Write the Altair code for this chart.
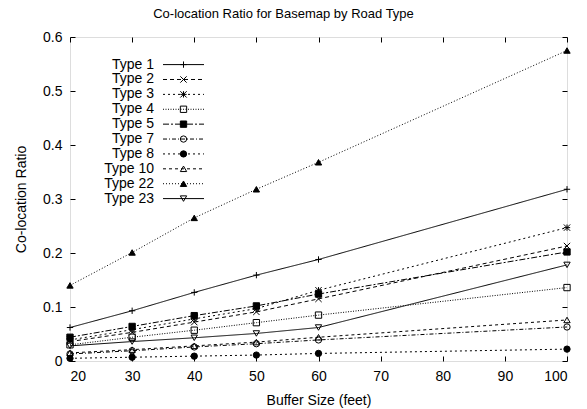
import altair as alt
import pandas as pd

buffer_sizes = [20, 30, 40, 50, 60, 100]
types = ["Type 1", "Type 2", "Type 3", "Type 4", "Type 5",
         "Type 7", "Type 8", "Type 10", "Type 22", "Type 23"]

type_1 = [0.062, 0.093, 0.127, 0.159, 0.188, 0.318]
type_2 = [0.036, 0.053, 0.072, 0.091, 0.115, 0.213]
type_3 = [0.039, 0.058, 0.078, 0.097, 0.131, 0.247]
type_4 = [0.030, 0.044, 0.057, 0.071, 0.085, 0.136]
type_5 = [0.044, 0.064, 0.084, 0.102, 0.124, 0.202]
type_7 = [0.013, 0.019, 0.026, 0.032, 0.039, 0.063]
type_8 = [0.005, 0.007, 0.009, 0.011, 0.014, 0.022]
type_10 = [0.015, 0.021, 0.028, 0.035, 0.044, 0.076]
type_22 = [0.140, 0.201, 0.265, 0.318, 0.368, 0.575]
type_23 = [0.028, 0.036, 0.043, 0.051, 0.062, 0.178]

x_ticks = [20, 30, 40, 50, 60, 70, 80, 90, 100]
y_ticks = [0, 0.1, 0.2, 0.3, 0.4, 0.5, 0.6]

series = [type_1, type_2, type_3, type_4, type_5, type_7, type_8, type_10, type_22, type_23]
rows = []
for t, vals in zip(types, series):
    for b, v in zip(buffer_sizes, vals):
        rows.append({"Type": t, "Buffer": b, "Ratio": v})
df = pd.DataFrame(rows)
leg_df = pd.DataFrame({"Type": types})

FONT = "Liberation Sans"
FS = 14

dash_scale = alt.Scale(domain=types, range=[
    [1, 0], [4, 3], [2, 3], [1, 1.5], [6, 2, 2, 2],
    [4, 2, 1, 2], [2, 3], [3, 3], [1, 2], [1, 0]])
shape_scale = alt.Scale(domain=types, range=[
    "M-1,0L1,0M0,-1L0,1",
    "M-1,-1L1,1M-1,1L1,-1",
    "M-1,-1L1,1M-1,1L1,-1M-1,0L1,0M0,-1L0,1",
    "square", "square", "circle", "circle",
    "triangle-up", "triangle-up", "triangle-down"])
fill_scale = alt.Scale(domain=types, range=[
    "transparent", "transparent", "transparent", "transparent", "black",
    "transparent", "black", "transparent", "black", "transparent"])

x_scale = alt.Scale(domain=[20, 100], nice=False, zero=False)
y_scale = alt.Scale(domain=[0, 0.6], nice=False)

x_axis = alt.Axis(values=x_ticks, title="Buffer Size (feet)", domain=False, grid=False,
                  offset=-5, tickSize=5, tickColor="black", labelPadding=8,
                  labelFontSize=FS, titleFontSize=FS, labelFont=FONT, titleFont=FONT,
                  titleFontWeight="normal", labelColor="black", titleColor="black",
                  titlePadding=10)
y_axis = alt.Axis(values=y_ticks, title="Co-location Ratio", format=".1~f", domain=False,
                  grid=False, offset=-5, tickSize=5, tickColor="black", labelPadding=8,
                  labelFontSize=FS, titleFontSize=FS, labelFont=FONT, titleFont=FONT,
                  titleFontWeight="normal", labelColor="black", titleColor="black",
                  titlePadding=14)

lines = alt.Chart(df).mark_line(color="black", strokeWidth=1).encode(
    x=alt.X("Buffer:Q", scale=x_scale, axis=x_axis),
    y=alt.Y("Ratio:Q", scale=y_scale, axis=y_axis),
    strokeDash=alt.StrokeDash("Type:N", scale=dash_scale, legend=None),
    detail="Type:N",
)

points = alt.Chart(df).mark_point(stroke="black", strokeWidth=1, size=40, opacity=1).encode(
    x=alt.X("Buffer:Q", scale=x_scale, axis=None),
    y=alt.Y("Ratio:Q", scale=y_scale, axis=None),
    shape=alt.Shape("Type:N", scale=shape_scale, legend=None),
    fill=alt.Fill("Type:N", scale=fill_scale, legend=None),
)

mirror = alt.Chart(df).mark_point(opacity=0).encode(
    x=alt.X("Buffer:Q", scale=x_scale,
            axis=alt.Axis(orient="top", values=x_ticks, labels=False, title=None, domain=False,
                          grid=False, offset=-5, tickSize=5, tickColor="black")),
    y=alt.Y("Ratio:Q", scale=y_scale,
            axis=alt.Axis(orient="right", values=y_ticks, labels=False, title=None, domain=False,
                          grid=False, offset=-5, tickSize=5, tickColor="black")),
)

leg_y = alt.Y("Type:N", scale=alt.Scale(type="point", domain=types, range=[27.6, 161.6], padding=0),
              axis=None)

leg_rules = alt.Chart(leg_df).mark_rule(color="black", strokeWidth=1).encode(
    x=alt.value(93), x2=alt.value(134), y=leg_y,
    strokeDash=alt.StrokeDash("Type:N", scale=dash_scale, legend=None),
)
leg_points = alt.Chart(leg_df).mark_point(stroke="black", strokeWidth=1, size=40, opacity=1).encode(
    x=alt.value(113.5), y=leg_y,
    shape=alt.Shape("Type:N", scale=shape_scale, legend=None),
    fill=alt.Fill("Type:N", scale=fill_scale, legend=None),
)
leg_text = alt.Chart(leg_df).mark_text(align="right", baseline="middle", font=FONT,
                                       fontSize=FS, color="black").encode(
    x=alt.value(84), y=leg_y, text="Type:N",
)

chart = alt.layer(lines, points, mirror, leg_rules, leg_points, leg_text).resolve_scale(
    x="independent", y="independent"
).properties(
    width=497, height=324,
    title=alt.TitleParams("Co-location Ratio for Basemap by Road Type", font=FONT, fontSize=13,
                          fontWeight="normal", color="black", anchor="middle", dx=-35, offset=9),
    autosize=alt.AutoSizeParams(type="none"),
    padding={"left": 70, "top": 37, "right": 20, "bottom": 48},
).configure_view(stroke="black", strokeWidth=1).configure(background="white")

chart.save("out.html", embed_options={"renderer": "svg", "actions": False})
